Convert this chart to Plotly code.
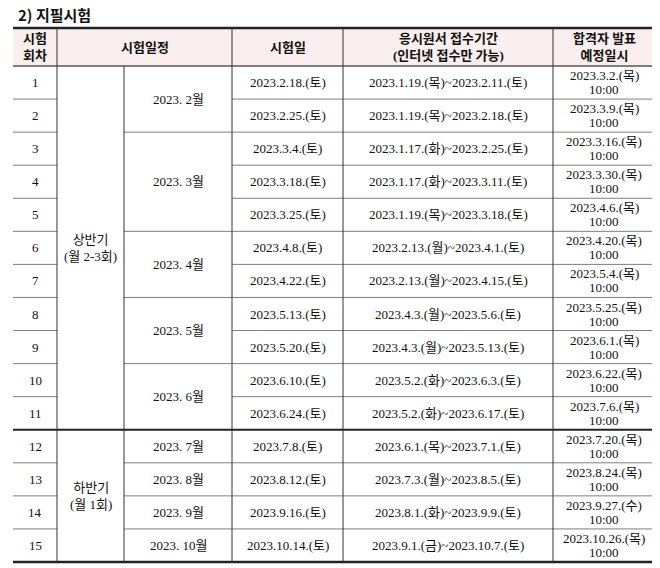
import plotly.graph_objects as go

rounds = [str(i) for i in range(1, 16)]
halves = ["상반기<br>(월 2~3회)"] * 11 + ["하반기<br>(월 1회)"] * 4
months = ["2023. 2월"] * 2 + ["2023. 3월"] * 3 + ["2023. 4월"] * 2 + ["2023. 5월"] * 2 + ["2023. 6월"] * 2 + \
         ["2023. 7월", "2023. 8월", "2023. 9월", "2023. 10월"]
exam_dates = ["2023.2.18.(토)", "2023.2.25.(토)", "2023.3.4.(토)", "2023.3.18.(토)", "2023.3.25.(토)",
              "2023.4.8.(토)", "2023.4.22.(토)", "2023.5.13.(토)", "2023.5.20.(토)", "2023.6.10.(토)",
              "2023.6.24.(토)", "2023.7.8.(토)", "2023.8.12.(토)", "2023.9.16.(토)", "2023.10.14.(토)"]
periods = ["2023.1.19.(목)~2023.2.11.(토)", "2023.1.19.(목)~2023.2.18.(토)", "2023.1.17.(화)~2023.2.25.(토)",
           "2023.1.17.(화)~2023.3.11.(토)", "2023.1.19.(목)~2023.3.18.(토)", "2023.2.13.(월)~2023.4.1.(토)",
           "2023.2.13.(월)~2023.4.15.(토)", "2023.4.3.(월)~2023.5.6.(토)", "2023.4.3.(월)~2023.5.13.(토)",
           "2023.5.2.(화)~2023.6.3.(토)", "2023.5.2.(화)~2023.6.17.(토)", "2023.6.1.(목)~2023.7.1.(토)",
           "2023.7.3.(월)~2023.8.5.(토)", "2023.8.1.(화)~2023.9.9.(토)", "2023.9.1.(금)~2023.10.7.(토)"]
announce = ["2023.3.2.(목)", "2023.3.9.(목)", "2023.3.16.(목)", "2023.3.30.(목)", "2023.4.6.(목)",
            "2023.4.20.(목)", "2023.5.4.(목)", "2023.5.25.(목)", "2023.6.1.(목)", "2023.6.22.(목)",
            "2023.7.6.(목)", "2023.7.20.(목)", "2023.8.24.(목)", "2023.9.27.(수)", "2023.10.26.(목)"]
announce_time = "10:00"
headers = ["시험<br>회차", "시험일정", "시험일", "응시원서 접수기간<br>(인터넷 접수만 가능)", "합격자 발표<br>예정일시"]
title = "2) 지필시험"

X = [13, 57, 124, 232, 343, 553, 655]
Y_TOP, Y_HEAD = 28, 66
Y_BOT = 562
n = len(rounds)
rh = (Y_BOT - Y_HEAD) / n
ry = [Y_HEAD + i * rh for i in range(n + 1)]

FONT = "Liberation Serif, Noto Sans CJK KR"
fig = go.Figure()
fig.add_shape(type="rect", x0=X[0], x1=X[-1], y0=Y_TOP, y1=Y_HEAD, fillcolor="#faeeee", line_width=0, layer="below")

def hline(x0, x1, y, w=1, c="#7f7f7f"):
    fig.add_shape(type="line", x0=x0, x1=x1, y0=y, y1=y, line=dict(color=c, width=w))

def vline(x, y0, y1):
    fig.add_shape(type="line", x0=x, x1=x, y0=y0, y1=y1, line=dict(color="#333", width=1))

def text(x, y, t, size=13, bold=False):
    fig.add_annotation(x=x, y=y, text=f"<b>{t}</b>" if bold else t, showarrow=False,
                       font=dict(family=FONT, size=size, color="#111"), align="center")

def groups(vals):
    g, s = [], 0
    for i in range(1, len(vals) + 1):
        if i == len(vals) or vals[i] != vals[s]:
            g.append((s, i)); s = i
    return g

for i in range(1, n):
    if halves[i] != halves[i - 1]:
        hline(X[0], X[-1], ry[i], 2, "#222")
        continue
    hline(X[0], X[1], ry[i])
    if months[i] != months[i - 1]:
        hline(X[2], X[-1], ry[i])
    else:
        hline(X[3], X[-1], ry[i])
hline(X[0], X[-1], Y_TOP, 2.5, "#222")
hline(X[0], X[-1], Y_HEAD, 1.5, "#555")
hline(X[0], X[-1], Y_BOT, 2.5, "#222")
for j, x in enumerate(X[1:-1]):
    vline(x, Y_HEAD if j == 1 else Y_TOP, Y_BOT)

hx = [(X[0] + X[1]) / 2, (X[1] + X[3]) / 2, (X[3] + X[4]) / 2, (X[4] + X[5]) / 2, (X[5] + X[6]) / 2]
for x, h in zip(hx, headers):
    text(x, (Y_TOP + Y_HEAD) / 2, h, 13, True)
fig.add_annotation(x=16, y=14, xanchor="left", text=f"<b>{title}</b>", showarrow=False,
                   font=dict(family="Noto Sans CJK KR", size=15, color="#111"))

for s, e in groups(halves):
    text((X[1] + X[2]) / 2, (ry[s] + ry[e]) / 2, halves[s].replace("~", "-"))
for s, e in groups(months):
    text((X[2] + X[3]) / 2, (ry[s] + ry[e]) / 2, months[s])
for i in range(n):
    yc = (ry[i] + ry[i + 1]) / 2
    text((X[0] + X[1]) / 2, yc, rounds[i])
    text((X[3] + X[4]) / 2, yc, exam_dates[i])
    text((X[4] + X[5]) / 2, yc, periods[i])
    text((X[5] + X[6]) / 2, yc - 7, announce[i])
    text((X[5] + X[6]) / 2, yc + 7, announce_time)

fig.update_layout(width=652, height=560, margin=dict(l=0, r=0, t=0, b=0),
                  plot_bgcolor="white", paper_bgcolor="white", showlegend=False)
fig.update_xaxes(range=[8, 660], visible=False, fixedrange=True)
fig.update_yaxes(range=[568, 8], visible=False, fixedrange=True)
fig.write_html("out.html", config={"displayModeBar": False})
